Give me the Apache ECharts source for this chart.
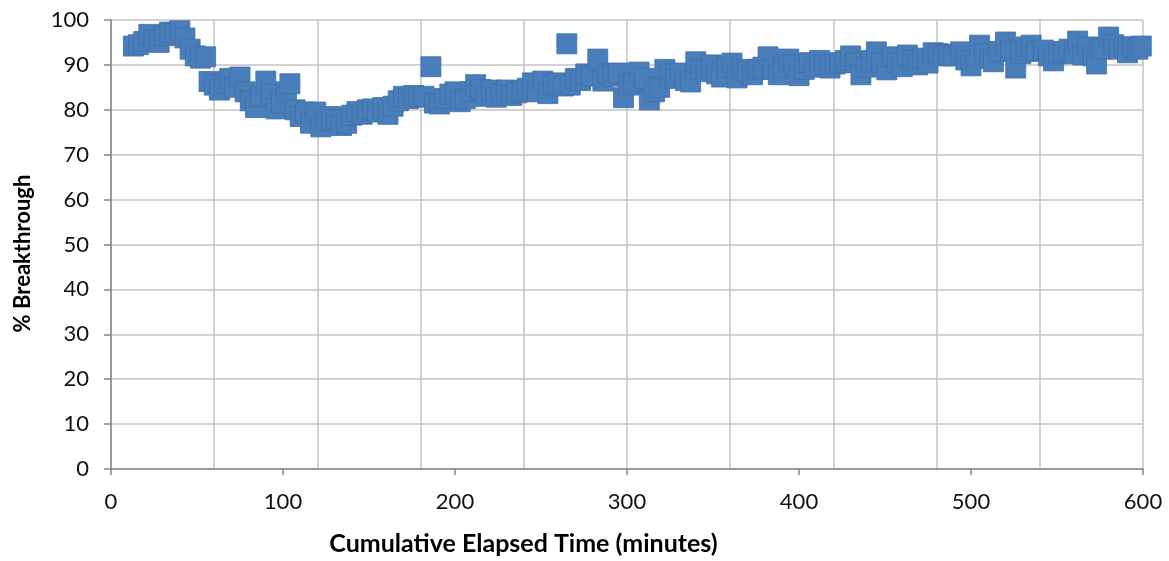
<!DOCTYPE html>
<html>
<head>
<meta charset="utf-8">
<script src="https://cdn.jsdelivr.net/npm/echarts@6/dist/echarts.min.js"></script>
<style>
  html, body { margin: 0; padding: 0; background: #fff; }
  #chart { width: 1169px; height: 561px; }
</style>
</head>
<body>
<div id="chart"></div>
<script>
// elapsed time (minutes)
var times = [
  13, 16, 19, 22, 25, 28, 31, 34, 37, 40, 43, 46, 49, 52, 55, 57, 60, 63, 66, 69,
  72, 75, 78, 81, 84, 87, 90, 93, 96, 99, 102, 104, 107, 110, 113, 116, 119, 122, 125, 128,
  131, 134, 137, 140, 143, 146, 149, 152, 155, 158, 161, 164, 167, 170, 173, 176, 179, 182, 186, 188,
  191, 194, 197, 200, 203, 206, 209, 212, 215, 218, 221, 224, 227, 230, 233, 236, 239, 242, 245, 248,
  251, 254, 257, 260, 263, 265, 267, 270, 273, 276, 279, 283, 286, 289, 292, 295, 298, 301, 304, 307,
  310, 313, 316, 319, 322, 325, 328, 331, 334, 337, 340, 343, 346, 349, 352, 355, 358, 361, 364, 367,
  370, 373, 376, 379, 382, 385, 388, 391, 394, 397, 400, 403, 406, 409, 412, 415, 418, 421, 424, 427,
  430, 433, 436, 439, 442, 445, 448, 451, 454, 457, 460, 463, 466, 469, 472, 475, 478, 481, 484, 487,
  490, 494, 497, 500, 503, 505, 508, 511, 513, 516, 520, 523, 526, 529, 532, 535, 538, 542, 545, 548,
  551, 554, 557, 560, 562, 565, 568, 571, 573, 576, 580, 583, 586, 589, 591, 594, 597, 599
];

// % breakthrough
var breakthrough = [
  94.2, 94.5, 95.2, 96.8, 95.5, 95.0, 96.5, 97.3, 97.0, 97.6, 96.0, 93.5, 92.0, 91.5, 91.8, 86.3, 85.5, 84.4, 86.0, 87.0,
  85.0, 87.3, 84.0, 82.0, 80.5, 83.0, 86.4, 83.5, 80.2, 81.5, 84.0, 85.8, 80.0, 78.5, 79.5, 77.0, 79.5, 76.2, 77.5, 78.5,
  77.8, 76.5, 77.0, 78.8, 79.6, 79.0, 80.0, 80.2, 79.5, 80.5, 79.0, 80.8, 82.0, 83.0, 82.5, 83.2, 82.8, 83.0, 89.6, 81.5,
  81.3, 82.5, 83.5, 84.0, 81.8, 82.5, 84.0, 85.6, 84.5, 83.0, 84.4, 82.8, 83.5, 84.4, 83.2, 83.8, 84.2, 84.8, 86.0, 84.0,
  86.4, 83.6, 85.5, 86.0, 85.3, 94.7, 85.5, 87.0, 86.5, 88.0, 87.5, 91.3, 86.4, 88.0, 87.5, 88.2, 82.7, 85.5, 86.0, 88.4,
  87.0, 82.2, 84.0, 85.0, 89.0, 88.0, 87.0, 88.2, 86.5, 86.2, 90.7, 89.0, 88.5, 90.0, 88.0, 87.3, 89.5, 90.4, 87.1, 89.0,
  88.5, 87.8, 89.0, 89.5, 91.8, 89.0, 87.8, 89.5, 91.3, 90.0, 87.6, 89.0, 90.5, 89.5, 91.0, 90.0, 89.3, 90.2, 90.5, 91.0,
  92.0, 90.5, 87.8, 89.5, 91.0, 92.9, 90.5, 88.9, 91.8, 90.5, 89.6, 92.2, 91.0, 90.0, 91.5, 90.4, 92.7, 92.5, 92.0, 92.3,
  92.0, 92.9, 91.1, 89.8, 92.0, 94.4, 92.5, 91.5, 90.7, 93.0, 95.1, 93.0, 89.3, 92.5, 94.0, 94.4, 93.0, 93.3, 92.0, 90.9,
  92.5, 93.0, 93.5, 92.5, 95.3, 92.2, 94.0, 92.0, 90.2, 93.5, 96.2, 94.5, 93.5, 94.0, 92.7, 94.0, 93.5, 94.2
];

var xTicks = [0, 100, 200, 300, 400, 500, 600];
var yTicks = [0, 10, 20, 30, 40, 50, 60, 70, 80, 90, 100];

var points = times.map(function (t, i) {
  return [t, breakthrough[i]];
});

var chart = echarts.init(document.getElementById('chart'), null, { renderer: 'canvas' });

var font = 'Lato, "Open Sans", sans-serif';
var gridColor = '#c3c3c3';
var axisColor = '#868686';

var option = {
  backgroundColor: '#ffffff',
  animation: false,
  grid: {
    left: 111,
    right: 26,
    top: 20,
    bottom: 91
  },
  xAxis: [{
    type: 'value',
    min: xTicks[0],
    max: xTicks[xTicks.length - 1],
    interval: 100,
    name: 'Cumulative Elapsed Time (minutes)',
    nameLocation: 'middle',
    nameGap: 62,
    nameTextStyle: {
      fontFamily: font,
      fontSize: 25,
      fontWeight: 'bold',
      color: '#000',
      padding: [0, 207, 0, 0]
    },
    axisLine: { show: true, lineStyle: { color: axisColor, width: 1.5 } },
    axisTick: { show: true, length: 6, lineStyle: { color: axisColor, width: 1.5 } },
    axisLabel: { fontFamily: font, fontSize: 22, color: '#111', margin: 22 },
    splitLine: { show: false }
  }, {
    // vertical grid every 60 minutes
    type: 'value',
    min: 0,
    max: 600,
    interval: 60,
    position: 'bottom',
    axisLine: { show: false },
    axisTick: { show: false },
    axisLabel: { show: false },
    splitLine: { show: true, lineStyle: { color: gridColor, width: 1.5 } }
  }],
  yAxis: {
    type: 'value',
    min: yTicks[0],
    max: yTicks[yTicks.length - 1],
    interval: 10,
    name: '% Breakthrough',
    nameLocation: 'middle',
    nameGap: 77,
    nameRotate: 90,
    nameTextStyle: {
      fontFamily: font,
      fontSize: 22,
      fontWeight: 'bold',
      color: '#000',
      padding: [0, 18, 0, 0]
    },
    axisLine: { show: true, lineStyle: { color: axisColor, width: 1.5 } },
    axisTick: { show: true, length: 7, lineStyle: { color: axisColor, width: 1.5 } },
    axisLabel: { fontFamily: font, fontSize: 22, color: '#111', margin: 22 },
    splitLine: { show: true, lineStyle: { color: gridColor, width: 1.5 } }
  },
  series: [{
    type: 'scatter',
    xAxisIndex: 0,
    symbol: 'rect',
    symbolSize: 20,
    clip: false,
    itemStyle: {
      color: '#4a7ebb',
      borderColor: '#3f6fa9',
      borderWidth: 0.8,
      opacity: 1
    },
    data: points
  }]
};

chart.setOption(option);
</script>
</body>
</html>
